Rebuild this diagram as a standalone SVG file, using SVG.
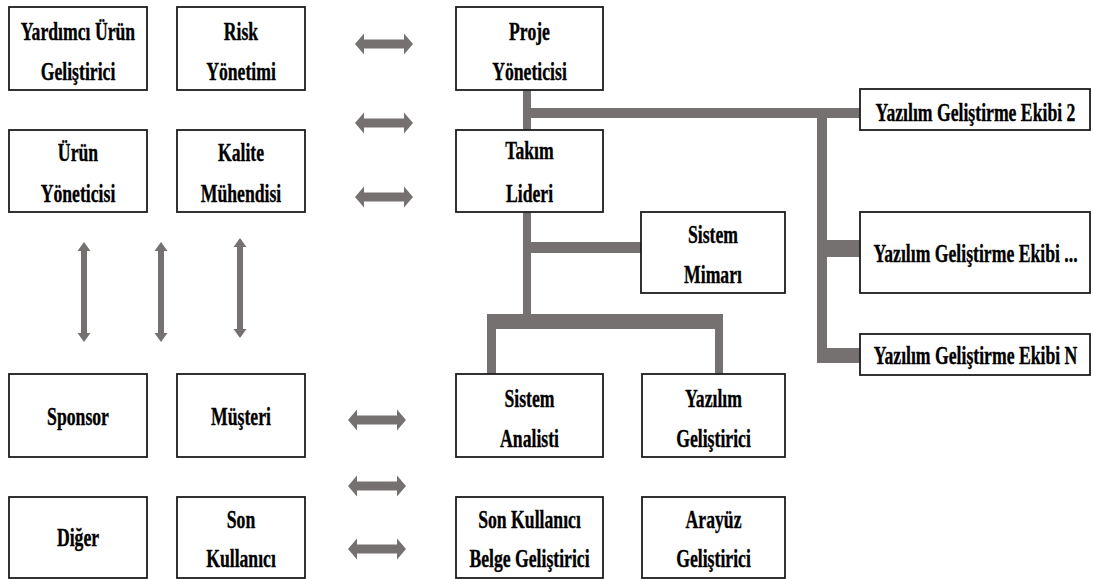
<svg xmlns="http://www.w3.org/2000/svg" width="1093" height="579" viewBox="0 0 1093 579">
  <style>
    .box { fill: #ffffff; stroke: #1c1c1c; stroke-width: 1.8; }
    .lbl { font-family: "Liberation Serif", "Times New Roman", serif; font-weight: bold; font-size: 26px; fill: #000000; stroke: #000000; stroke-width: 0.35; text-anchor: middle; }
    .bar { fill: #767171; }
    .arr { fill: #767171; }
  </style>
  <defs>
    <!-- double-headed block arrows -->
    <path id="harrow" d="M-29,0 L-20,-10.5 L-20,-4.5 L20,-4.5 L20,-10.5 L29,0 L20,10.5 L20,4.5 L-20,4.5 L-20,10.5 Z"/>
    <path id="varrow" d="M0,-50 L6.5,-41 L3,-41 L3,41 L6.5,41 L0,50 L-6.5,41 L-3,41 L-3,-41 L-6.5,-41 Z"/>
  </defs>

  <!-- connectors -->
  <g id="connectors">
    <rect class="bar" x="523" y="90" width="8" height="40"/>
    <rect class="bar" x="531" y="108" width="329" height="10"/>
    <rect class="bar" x="817" y="108" width="10" height="255"/>
    <rect class="bar" x="827" y="240" width="33" height="17"/>
    <rect class="bar" x="827" y="348" width="33" height="15"/>
    <rect class="bar" x="523" y="212" width="8" height="102"/>
    <rect class="bar" x="531" y="242" width="110" height="11"/>
    <rect class="bar" x="487" y="314" width="236" height="15"/>
    <rect class="bar" x="487" y="329" width="9" height="45"/>
    <rect class="bar" x="715" y="329" width="8" height="45"/>

    <use href="#harrow" class="arr" transform="translate(384,44)"/>
    <use href="#harrow" class="arr" transform="translate(384,123)"/>
    <use href="#harrow" class="arr" transform="translate(384,197)"/>
    <use href="#harrow" class="arr" transform="translate(377,420)"/>
    <use href="#harrow" class="arr" transform="translate(377,486)"/>
    <use href="#harrow" class="arr" transform="translate(377,549)"/>

    <use href="#varrow" class="arr" transform="translate(84,292)"/>
    <use href="#varrow" class="arr" transform="translate(161,292)"/>
    <use href="#varrow" class="arr" transform="translate(240,288)"/>
  </g>

  <!-- each label is set in a narrowed serif: translate to its anchor, then squeeze horizontally -->
  <g id="yardimci-urun-gelistirici">
    <rect class="box" x="9" y="7" width="138" height="83"/>
    <text class="lbl" transform="translate(78,40) scale(0.68,1)">Yardımcı Ürün</text>
    <text class="lbl" transform="translate(78,80) scale(0.68,1)">Geliştirici</text>
  </g>
  <g id="risk-yonetimi">
    <rect class="box" x="177" y="7" width="128" height="83"/>
    <text class="lbl" transform="translate(241,40) scale(0.68,1)">Risk</text>
    <text class="lbl" transform="translate(241,80) scale(0.68,1)">Yönetimi</text>
  </g>
  <g id="proje-yoneticisi">
    <rect class="box" x="456" y="7" width="147" height="83"/>
    <text class="lbl" transform="translate(529.5,40) scale(0.68,1)">Proje</text>
    <text class="lbl" transform="translate(529.5,80) scale(0.68,1)">Yöneticisi</text>
  </g>
  <g id="urun-yoneticisi">
    <rect class="box" x="9" y="130" width="138" height="82"/>
    <text class="lbl" transform="translate(78,161) scale(0.68,1)">Ürün</text>
    <text class="lbl" transform="translate(78,202) scale(0.68,1)">Yöneticisi</text>
  </g>
  <g id="kalite-muhendisi">
    <rect class="box" x="177" y="130" width="128" height="82"/>
    <text class="lbl" transform="translate(241,161) scale(0.68,1)">Kalite</text>
    <text class="lbl" transform="translate(241,202) scale(0.68,1)">Mühendisi</text>
  </g>
  <g id="takim-lideri">
    <rect class="box" x="456" y="130" width="147" height="82"/>
    <text class="lbl" transform="translate(529.5,159) scale(0.68,1)">Takım</text>
    <text class="lbl" transform="translate(529.5,202) scale(0.68,1)">Lideri</text>
  </g>
  <g id="sistem-mimari">
    <rect class="box" x="641" y="212" width="144" height="81"/>
    <text class="lbl" transform="translate(713,243) scale(0.68,1)">Sistem</text>
    <text class="lbl" transform="translate(713,283) scale(0.68,1)">Mimarı</text>
  </g>
  <g id="ekip-2">
    <rect class="box" x="860" y="89" width="230" height="41"/>
    <text class="lbl" transform="translate(975.5,121) scale(0.68,1)">Yazılım Geliştirme Ekibi 2</text>
  </g>
  <g id="ekip-diger">
    <rect class="box" x="860" y="212" width="230" height="81"/>
    <text class="lbl" transform="translate(975.5,262) scale(0.68,1)">Yazılım Geliştirme Ekibi ...</text>
  </g>
  <g id="ekip-n">
    <rect class="box" x="860" y="334" width="230" height="41"/>
    <text class="lbl" transform="translate(975.5,364) scale(0.68,1)">Yazılım Geliştirme Ekibi N</text>
  </g>
  <g id="sponsor">
    <rect class="box" x="9" y="374" width="138" height="83"/>
    <text class="lbl" transform="translate(78,425) scale(0.68,1)">Sponsor</text>
  </g>
  <g id="musteri">
    <rect class="box" x="177" y="374" width="128" height="83"/>
    <text class="lbl" transform="translate(241,425) scale(0.68,1)">Müşteri</text>
  </g>
  <g id="sistem-analisti">
    <rect class="box" x="456" y="374" width="147" height="83"/>
    <text class="lbl" transform="translate(529.5,407) scale(0.68,1)">Sistem</text>
    <text class="lbl" transform="translate(529.5,447) scale(0.68,1)">Analisti</text>
  </g>
  <g id="yazilim-gelistirici">
    <rect class="box" x="642" y="374" width="143" height="83"/>
    <text class="lbl" transform="translate(713.5,407) scale(0.68,1)">Yazılım</text>
    <text class="lbl" transform="translate(713.5,447) scale(0.68,1)">Geliştirici</text>
  </g>
  <g id="diger">
    <rect class="box" x="9" y="497" width="138" height="81"/>
    <text class="lbl" transform="translate(78,546) scale(0.68,1)">Diğer</text>
  </g>
  <g id="son-kullanici">
    <rect class="box" x="177" y="497" width="128" height="81"/>
    <text class="lbl" transform="translate(241,528) scale(0.68,1)">Son</text>
    <text class="lbl" transform="translate(241,567) scale(0.68,1)">Kullanıcı</text>
  </g>
  <g id="son-kullanici-belge-gelistirici">
    <rect class="box" x="456" y="497" width="147" height="81"/>
    <text class="lbl" transform="translate(529.5,528) scale(0.68,1)">Son Kullanıcı</text>
    <text class="lbl" transform="translate(529.5,567) scale(0.68,1)">Belge Geliştirici</text>
  </g>
  <g id="arayuz-gelistirici">
    <rect class="box" x="642" y="497" width="143" height="81"/>
    <text class="lbl" transform="translate(713.5,528) scale(0.68,1)">Arayüz</text>
    <text class="lbl" transform="translate(713.5,567) scale(0.68,1)">Geliştirici</text>
  </g>
</svg>
